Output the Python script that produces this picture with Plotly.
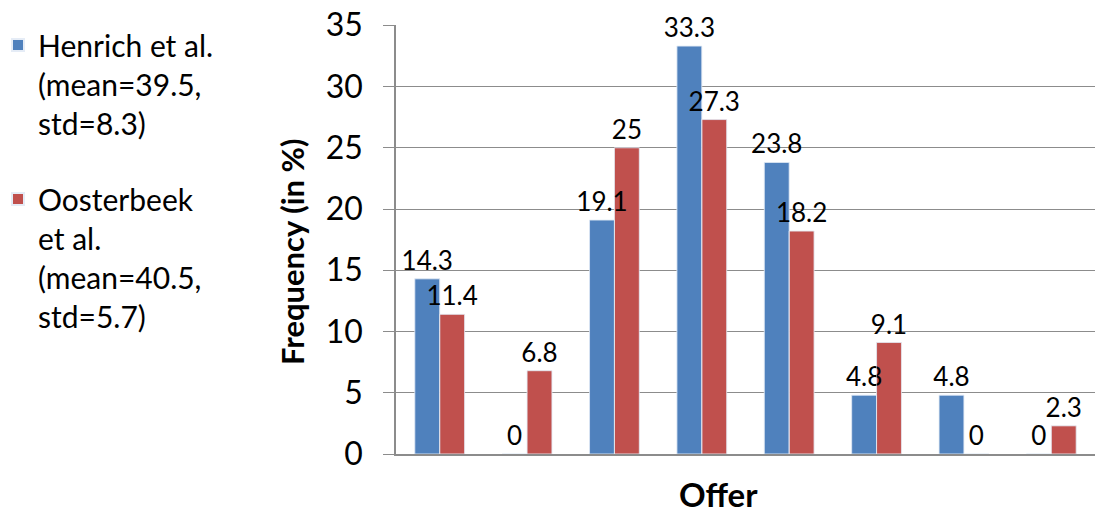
import plotly.graph_objects as go

categories = ["c1", "c2", "c3", "c4", "c5", "c6", "c7", "c8"]
henrich = [14.3, 0, 19.1, 33.3, 23.8, 4.8, 4.8, 0]
oosterbeek = [11.4, 6.8, 25, 27.3, 18.2, 9.1, 0, 2.3]
henrich_name = "Henrich et al.<br>(mean=39.5,<br>std=8.3)"
oosterbeek_name = "Oosterbeek<br>et al.<br>(mean=40.5,<br>std=5.7)"

FONT = "Lato, 'Open Sans', sans-serif"
BLUE, RED = "#4F81BD", "#C0504D"

W, H = 1095, 517
L, T, B = 396, 25, 63
PW, PH = W - L, H - T - B

fig = go.Figure()
fig.add_bar(x=categories, y=henrich, name=henrich_name, legendgroup="a",
            offsetgroup="a", marker_color=BLUE)
fig.add_bar(x=categories, y=oosterbeek, name=oosterbeek_name, legendgroup="b",
            offsetgroup="b", marker_color=RED)
# data labels drawn on top of all bars
for vals, grp in ((henrich, "a"), (oosterbeek, "b")):
    fig.add_bar(x=categories, y=vals, offsetgroup=grp, showlegend=False,
                marker_color="rgba(0,0,0,0)", text=[f"{v:g}" for v in vals],
                textposition="outside", constraintext="none", cliponaxis=False,
                textfont=dict(size=26, color="black", family=FONT),
                hoverinfo="skip")

fig.update_layout(
    width=W, height=H,
    margin=dict(l=L, r=0, t=T, b=B, autoexpand=False),
    plot_bgcolor="white", paper_bgcolor="white",
    barmode="group", bargap=0.43, bargroupgap=0,
    font=dict(family=FONT, color="black"),
    legend=dict(x=-(L + 2) / PW, xanchor="left", y=1 + 6 / PH, yanchor="top",
                font=dict(size=30, family=FONT), valign="top",
                tracegroupgap=34, itemsizing="constant", maxheight=500),
    xaxis=dict(showticklabels=False, showline=True, linecolor="#8c8c8c",
               linewidth=1.5, ticks="", range=[-0.5, 7.5], automargin=False),
    yaxis=dict(range=[0, 35.02], dtick=5, showgrid=True, gridcolor="#8c8c8c",
               gridwidth=1.2, showline=True, linecolor="#8c8c8c", linewidth=1.5,
               ticks="outside", ticklen=11, tickcolor="#8c8c8c",
               tickfont=dict(size=32, family=FONT), ticklabelstandoff=14,
               ticklabeloverflow="allow", zeroline=False, automargin=False),
    annotations=[
        dict(text="<b>Offer</b>", xref="paper", yref="paper",
             x=(718 - 396) / PW, y=-62 / PH, xanchor="center",
             yanchor="bottom", showarrow=False, font=dict(size=33, family=FONT)),
        dict(text="<b>Frequency (in %)</b>", xref="paper", yref="paper",
             x=(292 - 396) / PW, y=(454 - 252) / PH, xanchor="center",
             yanchor="middle", textangle=-90, showarrow=False,
             font=dict(size=31, family=FONT)),
    ],
)

fig.write_html("out.html", config={"displayModeBar": False},
               post_script="document.body.style.margin='0';")
